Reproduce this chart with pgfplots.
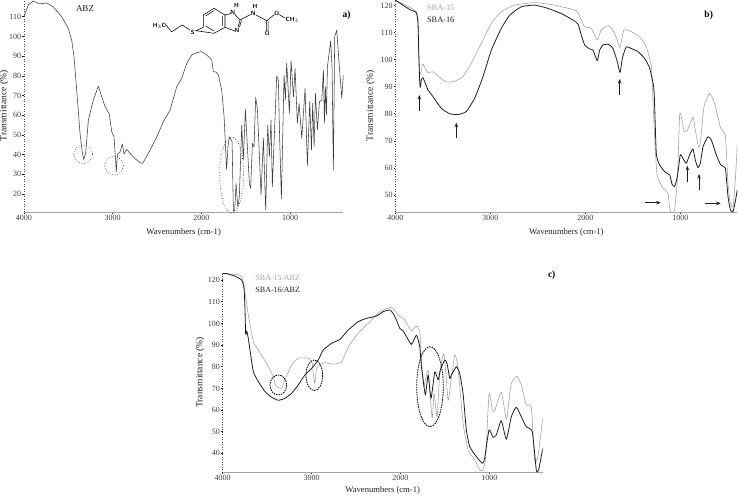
\documentclass[border=0pt]{standalone}
\usepackage{fontspec}
\setmainfont{Liberation Serif}
\usepackage{pgfplots}
\pgfplotsset{compat=1.18}
\usetikzlibrary{arrows.meta}
\definecolor{lg}{HTML}{A4A4A4}
\definecolor{dk}{HTML}{1E1E1E}
\definecolor{mid}{HTML}{3C3C3C}
\pgfplotsset{
  ftir/.style={
    scale only axis, anchor=south west, x dir=reverse,
    xmin=400, xmax=4000, xtick={1000,2000,3000,4000},
    minor x tick num=4,
    axis x line*=bottom, axis y line*=left,
    x axis line style={color=lg,line width=0.6pt,-},
    y axis line style={color=mid,line width=0.5pt,dotted,-},
    tick align=outside, major tick length=1.6pt, minor tick length=1pt,
    tick style={color=dk,line width=0.5pt},
    /pgf/number format/assume math mode=true,
    /pgf/number format/set thousands separator={},
    tick label style={font=\fontsize{8}{9}\selectfont,color=mid,inner sep=1pt},
    xlabel={Wavenumbers (cm-1)}, ylabel={Transmittance (\%)},
    xlabel style={font=\fontsize{8.6}{9}\selectfont,color=dk,anchor=center},
    ylabel style={font=\fontsize{9.5}{10}\selectfont,color=dk,anchor=center},
  },
  every axis plot/.append style={line join=round}
}
\begin{document}
\begin{tikzpicture}[x=1pt,y=1pt]
\clip (0,0) rectangle (738,495);
% panel a
\begin{axis}[ftir, at={(24pt,283pt)}, width=319.3pt, height=212pt, ymin=10.9, ymax=118.5,
  ytick={20,30,...,110},
  xlabel style={at={(rel axis cs:0.5,0)},yshift=-20pt},
  ylabel style={at={(rel axis cs:0,0.5)},yshift=20pt}]
\addplot[mid,line width=0.55pt] coordinates {
(4000,110)(3951,116)(3895,118)(3827,116.5)(3744,117)(3669,115)(3575,110)(3500,104)(3462,98)(3436,89.7)(3406,72.8)(3368,50.8)(3346,42.3)(3327,37.6)(3305,40.6)(3274,57.6)(3218,67.7)(3162,74.8)(3135,71)(3086,64.3)(3038,60.6)(3011,51.6)(2985,49)(2970,39)(2959,31.3)(2947,39.8)(2917,41.5)(2891,45.4)(2872,40.3)(2842,42.7)(2797,40.3)(2748,38)(2692,35.9)(2662,35.6)(2598,40.6)(2504,49)(2429,56.7)(2353,62.6)(2278,74.5)(2222,78.7)(2165,86.3)(2109,90.6)(2053,91.7)(2000,92.3)(1940,90.6)(1883,88)(1865,82)(1835,82)(1808,80.4)(1771,72.8)
(1744,59.3)(1716,32.5)(1700,44)(1684,49.1)(1654,46.6)(1639,11.2)(1624,11.9)(1609,25.4)(1590,13.6)(1572,18.6)(1545,55)(1527,37.3)(1504,63)(1459,25.4)(1444,22.9)(1425,45.7)(1406,44)(1388,69.1)(1369,63.5)(1327,19.5)(1301,48.3)(1275,11.9)(1252,55)(1233,39)(1215,57.6)(1200,23.7)(1151,79.9)(1132,77.9)(1121,54.2)(1098,17.5)(1068,80.4)(1053,67.7)(1038,86.3)(1027,77.9)(1008,60.9)(989,87.7)(962,69.4)(944,83.8)(918,55.9)(898,66)(868,48.3)(831,73.6)(805,34.4)(778,66.9)(759,42.3)(745,66)(729,44)(714,71.1)(692,52.5)(669,66.9)(643,67.7)(624,82.9)(613,55.9)(602,74.5)(590,60.1)(579,84.6)(542,97.8)(527,84.6)(512,32.2)(497,99.9)(474,103.2)(436,79.6)(417,68.6)(400,80.4)
};
\end{axis}
% panel b
\begin{axis}[ftir, at={(395.3pt,283pt)}, width=342pt, height=212pt, ymin=43.7, ymax=122,
  ytick={50,60,...,120},
  xlabel style={at={(rel axis cs:0.5,0)},yshift=-20pt},
  ylabel style={at={(rel axis cs:0,0.5)},yshift=24.6pt}]
\addplot[lg,line width=0.6pt,smooth,tension=0.3] coordinates {
(4000,122)(3849,119.3)(3779,117.7)(3761,114.6)(3754,103.5)(3744,94.3)(3726,96)(3709,98.4)(3684,96.8)(3656,95.2)(3603,95.5)(3551,93.9)(3463,91.7)(3375,92)(3288,93.7)(3200,98.6)(3095,106)(2989,113.4)(2884,117.7)(2744,120.1)(2533,121)(2323,120.1)(2095,118)(2042,114.6)(2007,112.1)(1937,111.5)(1874,107.2)(1832,110.9)(1761,112.5)(1709,110.9)(1663,107.2)(1635,104.5)(1593,110.9)(1516,110.3)(1428,108.4)(1358,104.7)(1305,97.4)(1288,85)(1263,66.6)(1242,56.8)(1182,52.5)(1130,50.6)(1112,45)(1088,43)(1060,44.5)(1031,55.6)(1007,79.5)(989,78.9)(961,73.6)(926,73.8)(867,78.7)(842,74)(807,67.5)(786,70.3)(751,82.6)(691,87.5)(639,83.8)(575,74.6)(526,72.1)(498,54.3)(473,47)(445,45.7)(421,55.5)(400,68.5)
};
\addplot[dk,line width=0.8pt,smooth,tension=0.3] coordinates {
(4000,122)(3937,120.5)(3849,118.5)(3779,117.3)(3761,113.4)(3754,103.5)(3744,92.4)(3737,89.7)(3726,92.4)(3709,93.3)(3684,91.2)(3656,88.8)(3603,86.3)(3516,82)(3428,80)(3340,79.7)(3253,80.8)(3165,85.7)(3077,93.7)(2989,103.5)(2884,111.5)(2796,116.4)(2673,119.5)(2533,120.1)(2393,118.9)(2253,117)(2130,114.6)(2077,113.1)(2042,109)(2007,105.4)(1954,103.9)(1919,103.5)(1874,99.6)(1849,103.5)(1814,105.4)(1754,105.6)(1709,104.1)(1663,99.2)(1635,95.2)(1607,101)(1568,104.7)(1516,104.1)(1445,102.9)(1375,100.4)(1323,96.8)(1277,88.8)(1253,65.4)(1217,61.1)(1165,58.6)(1112,57.4)(1088,54.1)(1060,53.1)(1031,56.8)(1000,64.8)(972,63.5)(937,61.7)(902,64.8)(867,67)(842,62.9)(814,60.1)(789,61.7)(761,67.8)(709,71.5)(674,70.3)(621,64.8)(575,61.1)(526,59.9)(498,49.4)(473,44.5)(445,43.9)(421,47.6)(400,51.9)
};
\end{axis}
% panel c
\begin{axis}[ftir, at={(222.7pt,23pt)}, width=320pt, height=199.3pt, ymin=31.4, ymax=123.4,
  ytick={40,50,...,120},
  xlabel style={at={(rel axis cs:0.5,0)},yshift=-18pt},
  ylabel style={at={(rel axis cs:0,0.5)},yshift=22.7pt}]
\addplot[lg,line width=0.6pt,smooth,tension=0.3] coordinates {
(4000,123)(3805,122.3)(3768,119.2)(3742,112.3)(3712,103.9)(3655,91.5)(3599,87.7)(3506,81.5)(3431,75.4)(3401,71)(3337,70)(3300,73.9)(3225,80.8)(3150,83.9)(3038,83.9)(2993,81.5)(2981,76.9)(2963,72.3)(2944,79.2)(2906,80.8)(2850,81.9)(2756,81.2)(2662,82.3)(2588,89.2)(2476,95.4)(2345,100.8)(2232,105.4)(2101,107.4)(2026,103.9)(1951,101.5)(1877,96.6)(1820,98.8)(1783,96.2)(1764,83.1)(1738,70.8)(1689,78.5)(1644,56.2)(1622,67.7)(1588,56.9)(1558,76.9)(1510,85.9)(1465,64.6)(1435,72.3)(1390,85.4)(1364,82.3)(1334,71.6)(1296,53.9)(1240,41.6)(1165,37)(1109,32.3)(1071,32.3)(1041,38.5)(1004,67.4)(966,60)(940,59.7)(866,68.2)(809,55.7)(783,63)(753,72.3)(689,75.7)(641,71.6)(585,62.3)(528,61.5)(491,37)(453,38.5)(400,56.2)
};
\addplot[dk,line width=0.8pt,smooth,tension=0.3] coordinates {
(4000,123)(3955,123)(3861,121.8)(3787,120)(3760,116.2)(3749,106.2)(3742,95)(3730,96.6)(3712,93)(3685,85.4)(3655,77.7)(3599,73.1)(3524,68.5)(3449,65.9)(3375,64.5)(3300,65.4)(3225,67.7)(3150,71.6)(3075,76.2)(3000,79.2)(2925,83.1)(2869,87.7)(2775,90.8)(2682,92.6)(2588,96.9)(2476,100.8)(2382,102.3)(2270,103.4)(2195,105.4)(2120,106.2)(2083,104.6)(2045,101.5)(2008,97.7)(1970,96.6)(1933,93.9)(1877,90.3)(1820,94.6)(1783,89.2)(1764,80)(1745,73.9)(1719,66.9)(1689,76.2)(1656,65.4)(1614,77.7)(1577,73.9)(1551,78.5)(1502,83.1)(1476,81.5)(1446,74.6)(1427,76.2)(1371,80)(1334,76.9)(1296,67.7)(1259,50.8)(1221,43.1)(1146,38.5)(1079,35.4)(1053,37.7)(1004,50.8)(959,47.4)(922,48.5)(866,55.1)(809,46.5)(753,56.9)(697,61.3)(641,56.9)(585,52.3)(517,50)(472,32.3)(446,32.3)(400,42.3)
};
\end{axis}
% annotations in image pixels, y downward
\begin{scope}[x=1pt,y=-1pt,yshift=495pt]
\tikzset{tx/.style={font=\fontsize{8.3}{9}\selectfont,inner sep=0pt,text=dk},
  lb/.style={font=\fontsize{9.5}{10}\selectfont\bfseries,inner sep=0pt,text=black},
  ar/.style={-{Stealth[length=4.5pt,width=3.5pt]},line width=0.8pt,dk},
  dotc/.style={dotted,line width=0.6pt,dk},
  dashc/.style={dash pattern=on 1.6pt off 0.9pt,line width=0.8pt,black},
  chem/.style={font=\fontsize{6}{6}\selectfont\sffamily\bfseries,inner sep=0pt,text=black},
  bond/.style={line width=0.55pt,black}}
\node[tx,font=\fontsize{9}{9}\selectfont] at (85,8.3) {ABZ};
\node[lb] at (346.7,15) {a)};
\node[lb] at (708.7,15) {b)};
\node[lb] at (551.7,275) {c)};
\node[tx,text=lg] at (440.7,7.3) {SBA-15};
\node[tx] at (440.7,20) {SBA-16};
\node[tx,text=lg,font=\fontsize{8}{9}\selectfont] at (277.7,278.3) {SBA-15/ABZ};
\node[tx,font=\fontsize{8}{9}\selectfont] at (277.7,290) {SBA-16/ABZ};
% arrows
\draw[ar] (419.3,111)--(419.3,95);
\draw[ar] (456.3,138.3)--(456.3,122.7);
\draw[ar] (619.7,95)--(619.7,79);
\draw[ar] (687.3,181.7)--(687.3,165.7);
\draw[ar] (699,190)--(699,174);
\draw[ar] (644.7,202.7)--(660.7,202.7);
\draw[ar] (704.7,203.3)--(720.7,203.3);
% circles
\draw[dotc] (83.3,154.3) circle (9.3);
\draw[dotc] (114,165.7) circle (9.3);
\draw[dotc] (231.7,175) ellipse (12 and 38);
\draw[dashc] (278.3,385) ellipse (8.3 and 10);
\draw[dashc] (314.3,375.3) ellipse (8.3 and 15.3);
\draw[dashc] (430,386.7) ellipse (13.3 and 40);
% molecule
\node[chem] at (159.3,26) {H$_3$C};
\draw[bond] (165,24)--(171.7,31.7)--(182.3,25)--(190,30);
\node[chem] at (192.7,32.5) {S};
\draw[bond] (196,30.7)--(203.3,27.3)--(203.3,15)--(214,8.3)--(225,15)--(225,27.3)--(214,33.3)--cycle;
\draw[bond] (205.5,16)--(214,10.7) (222.7,16)--(222.7,26) (214,31)--(205.5,26);
\draw[bond] (225,15)--(231,13.5) (234.5,14)--(240,20) (240,20)--(238,27.5) (235,31)--(225,27.3) (241.5,20.5)--(239.5,27);
\node[chem] at (232.7,12.7) {N};
\node[chem] at (236.5,5) {H};
\node[chem] at (237,30.7) {N};
\draw[bond] (240,20)--(250.5,14.5);
\node[chem] at (253.3,13.5) {N};
\node[chem] at (255,6.5) {H};
\draw[bond] (256,15)--(266.7,20.7)--(266.7,31) (268.2,20.7)--(268.2,31) (266.7,20.7)--(274.5,14.5) (279,14.5)--(285,18);
\node[chem] at (267.2,33.5) {O};
\node[chem] at (276.7,13.3) {O};
\node[chem] at (292,20) {CH$_3$};
\end{scope}
\end{tikzpicture}
\end{document}
